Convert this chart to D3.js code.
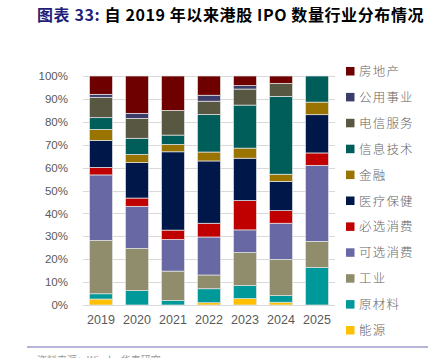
<!DOCTYPE html>
<html><head><meta charset="utf-8">
<script src="https://cdn.jsdelivr.net/npm/d3@7"></script>
<style>
html,body{margin:0;padding:0;background:#fff;}
svg{display:block;}
</style></head>
<body>
<svg id="c" width="438" height="358"></svg>
<script>
const years = ["2019","2020","2021","2022","2023","2024","2025"];
const seriesNames = ["能源","原材料","工业","可选消费","必选消费","医疗保健","金融","信息技术","电信服务","公用事业","房地产"];
const seriesColors = ["#FFC000","#009999","#8F8D6C","#6868A4","#C00000","#00174A","#9A7400","#005E5A","#585842","#3D3D6B","#6E0000"];
// values in % per year (2019..2025)
const energy      = [2.6, 0.0, 0.0, 1.0, 2.8, 1.2, 0.0];
const materials   = [2.3, 6.3, 2.0, 6.1, 5.7, 2.9, 16.4];
const industrials = [23.3, 18.4, 12.8, 6.0, 14.4, 15.8, 11.4];
const consDisc    = [28.6, 18.4, 13.8, 16.6, 9.9, 15.8, 33.2];
const consStaples = [3.3, 3.6, 4.1, 6.0, 12.8, 5.5, 5.4];
const healthcare  = [11.8, 15.5, 34.2, 27.2, 18.5, 12.8, 16.7];
const financials  = [4.8, 3.5, 3.2, 3.9, 4.4, 3.1, 5.5];
const infoTech    = [5.1, 7.1, 4.1, 16.4, 18.8, 34.0, 11.4];
const telecom     = [8.9, 8.7, 10.8, 5.8, 7.0, 5.7, 0.0];
const utilities   = [1.3, 2.2, 0.0, 2.6, 1.5, 0.0, 0.0];
const realEstate  = [8.0, 16.3, 15.0, 8.4, 4.2, 3.2, 0.0];
const yTicks = [0,10,20,30,40,50,60,70,80,90,100];

const seriesValues = [energy, materials, industrials, consDisc, consStaples, healthcare, financials, infoTech, telecom, utilities, realEstate];
const table = years.map((y,i)=>{
  const o = {year:y};
  seriesNames.forEach((n,k)=>{o[n]=seriesValues[k][i];});
  return o;
});

const svg = d3.select("#c");
const x = d3.scaleBand().domain(years).range([83,335]).paddingInner(0.36).paddingOuter(0.18);
const y = d3.scaleLinear().domain([0,100]).range([305,76]);

// gridlines
svg.append("g").selectAll("line").data(yTicks).join("line")
  .attr("x1",83).attr("x2",335)
  .attr("y1",d=>Math.round(y(d))+0.5).attr("y2",d=>Math.round(y(d))+0.5)
  .attr("stroke","#D9D9D9").attr("stroke-width",1);

// y axis labels
const yAxis = d3.axisLeft(y).tickValues(yTicks).tickFormat(d=>d+"%").tickSize(0).tickPadding(0);
const gy = svg.append("g").attr("transform","translate(68,0)").call(yAxis);
gy.select(".domain").remove();
gy.selectAll("text").attr("fill","#595959").style("font-family","'Liberation Sans',Arial,sans-serif").style("font-size","11.5px");

// x axis labels
const xAxis = d3.axisBottom(x).tickSize(0).tickPadding(0);
const gx = svg.append("g").attr("transform","translate(0,315)").call(xAxis);
gx.select(".domain").remove();
gx.selectAll("text").attr("fill","#595959").style("font-family","'Liberation Sans',Arial,sans-serif").style("font-size","12.5px");

// stacked bars
const stack = d3.stack().keys(seriesNames);
const layers = stack(table);
svg.append("g").selectAll("g").data(layers).join("g")
  .attr("fill",(d,i)=>seriesColors[i])
  .selectAll("rect").data(d=>d.filter(p=>p[1]-p[0]>0)).join("rect")
  .attr("x",d=>x(d.data.year))
  .attr("width",x.bandwidth())
  .attr("y",d=>y(d[1]))
  .attr("height",d=>y(d[0])-y(d[1]))
  .attr("stroke","#E6E6E6").attr("stroke-width",0.7);

// legend (top to bottom reversed order)
const legendItems = seriesNames.map((n,i)=>({name:n,color:seriesColors[i]})).reverse();
const lg = svg.append("g");
const ly = d3.scalePoint().domain(legendItems.map(d=>d.name)).range([71,330]);
lg.selectAll("rect").data(legendItems).join("rect")
  .attr("x",346).attr("y",d=>ly(d.name)-4).attr("width",8.5).attr("height",8.5)
  .attr("fill",d=>d.color);
lg.selectAll("text").data(legendItems).join("text")
  .attr("x",359).attr("y",d=>ly(d.name)+5)
  .attr("fill","#666666")
  .style("font-family","'Noto Sans CJK SC',sans-serif").style("font-size","12.5px")
  .style("font-weight","300")
  .style("letter-spacing","1.2px")
  .text(d=>d.name);

// title
const title = svg.append("text").attr("x",37).attr("y",21)
  .style("font-family","'Noto Sans CJK SC',sans-serif").style("font-size","16px").style("font-weight","bold")
  .style("letter-spacing","0.6px");
title.append("tspan").attr("fill","#1F1F7A").text("图表 33: ");
title.append("tspan").attr("fill","#000").text("自 2019 年以来港股 IPO 数量行业分布情况");

// footer
svg.append("line").attr("x1",27).attr("x2",428).attr("y1",347).attr("y2",347)
  .attr("stroke","#9C9CCB").attr("stroke-width",1.5);
svg.append("text").attr("x",37).attr("y",364)
  .attr("fill","#9A9A9A")
  .style("font-family","'Noto Sans CJK SC',sans-serif").style("font-size","10px")
  .text("资料来源：Wind，华泰研究");
</script>
</body></html>
